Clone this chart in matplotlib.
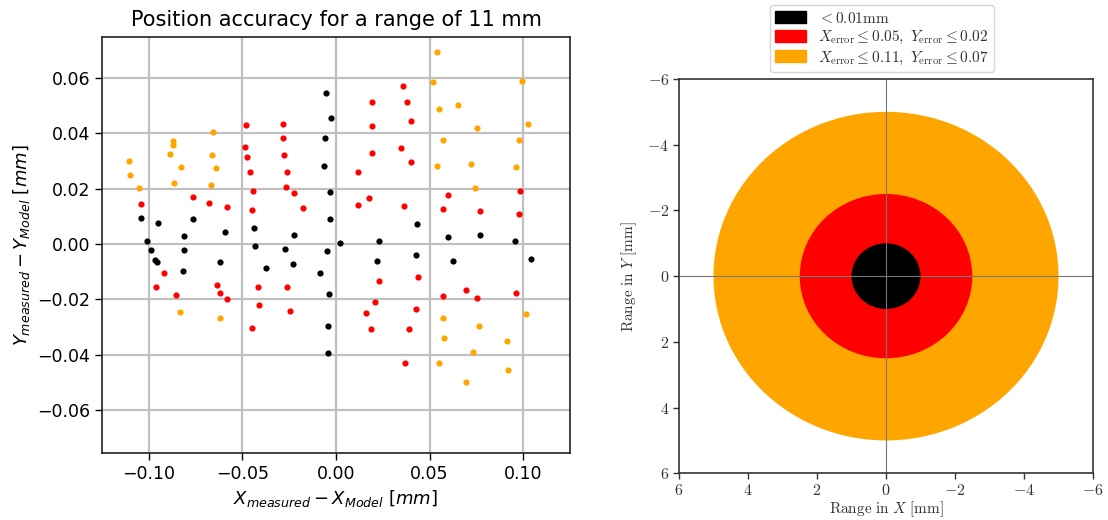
import matplotlib
matplotlib.use("Agg")
import matplotlib.pyplot as plt
from matplotlib.patches import Circle, Patch
from matplotlib.font_manager import FontProperties

# ---------------- data ----------------
black_x = [-0.0055, -0.0027, -0.0057, -0.0066, -0.0032, -0.0032, -0.1041, -0.0953,
           -0.0763, -0.0810, -0.0593, -0.0437, -0.0227, -0.1009, -0.0987, -0.0969,
           -0.0957, -0.0810, -0.0817, -0.0622, -0.0433, -0.0270, -0.0376, -0.0229,
           -0.0046, -0.0084, -0.0038, -0.0045, -0.0043, 0.0020, 0.0435, 0.0597,
           0.0767, 0.0959, 0.0230, 0.0220, 0.0428, 0.0627, 0.1041]
black_y = [0.0544, 0.0455, 0.0382, 0.0283, 0.0189, 0.0090, 0.0094, 0.0076,
           0.0090, 0.0028, 0.0044, 0.0059, 0.0031, 0.0011, -0.0023, -0.0058,
           -0.0067, -0.0022, -0.0097, -0.0066, -0.0008, -0.0018, -0.0088, -0.0073,
           -0.0025, -0.0104, -0.0182, -0.0295, -0.0394, 0.0005, 0.0071, 0.0025,
           0.0031, 0.0012, 0.0012, -0.0060, -0.0041, -0.0061, -0.0054]

red_x = [-0.1043, -0.0765, -0.0681, -0.0581, -0.0482, -0.0484, -0.0478, -0.0457,
         -0.0444, -0.0448, -0.0283, -0.0281, -0.0277, -0.0263, -0.0267, -0.0222,
         -0.0174, 0.0359, 0.0192, 0.0380, 0.0402, 0.0192, 0.0190, 0.0346,
         0.0403, 0.0118, 0.0174, 0.0117, 0.0362, 0.0599, 0.0570, 0.0767,
         0.0982, 0.0978, -0.0919, -0.0960, -0.0853, -0.0638, -0.0620, -0.0581,
         -0.0419, -0.0261, -0.0409, -0.0244, -0.0449, 0.0228, 0.0437, 0.0570,
         0.0692, 0.0753, 0.0961, 0.0208, 0.0161, 0.0425, 0.0187, 0.0392, 0.0369]
red_y = [0.0144, 0.0169, 0.0149, 0.0135, 0.0428, 0.0351, 0.0313, 0.0259,
         0.0191, 0.0123, 0.0433, 0.0383, 0.0321, 0.0259, 0.0206, 0.0182,
         0.0128, 0.0569, 0.0514, 0.0512, 0.0443, 0.0425, 0.0330, 0.0345,
         0.0296, 0.0261, 0.0166, 0.0141, 0.0136, 0.0177, 0.0126, 0.0120,
         0.0192, 0.0109, -0.0105, -0.0156, -0.0184, -0.0150, -0.0179, -0.0199,
         -0.0156, -0.0154, -0.0221, -0.0244, -0.0303, -0.0134, -0.0120, -0.0187,
         -0.0165, -0.0196, -0.0179, -0.0208, -0.0249, -0.0234, -0.0309, -0.0309, -0.0431]

orange_x = [-0.1105, -0.1098, -0.1052, -0.0869, -0.0869, -0.0885, -0.0826, -0.0867,
            -0.0659, -0.0665, -0.0641, -0.0668, 0.0541, 0.0516, 0.0995, 0.0548,
            0.0651, 0.0753, 0.1024, 0.0574, 0.0978, 0.0541, 0.0719, 0.0964,
            0.0744, -0.0831, -0.0620, 0.0570, 0.0762, 0.0579, 0.0916, 0.0731,
            0.1013, 0.0548, 0.0921, 0.0696]
orange_y = [0.0299, 0.0250, 0.0201, 0.0373, 0.0356, 0.0325, 0.0276, 0.0220,
            0.0404, 0.0321, 0.0273, 0.0214, 0.0692, 0.0586, 0.0587, 0.0487,
            0.0502, 0.0418, 0.0434, 0.0374, 0.0375, 0.0280, 0.0289, 0.0276,
            0.0202, -0.0245, -0.0268, -0.0268, -0.0296, -0.0339, -0.0350, -0.0389,
            -0.0252, -0.0431, -0.0454, -0.0498]

x_ticks = [-0.10, -0.05, 0.00, 0.05, 0.10]
y_ticks = [-0.06, -0.04, -0.02, 0.00, 0.02, 0.04, 0.06]

radii = [5.0, 2.5, 1.0]
circle_colors = ["orange", "red", "black"]
legend_labels = [r"$<0.01\mathrm{mm}$",
                 r"$X_\mathrm{error} \leq 0.05,\ Y_\mathrm{error} \leq 0.02$",
                 r"$X_\mathrm{error} \leq 0.11,\ Y_\mathrm{error} \leq 0.07$"]
legend_colors = ["black", "red", "orange"]
range_ticks = [-6, -4, -2, 0, 2, 4, 6]

# ---------------- figure ----------------
fig = plt.figure(figsize=(11.08, 5.2), dpi=100)

ax1 = fig.add_axes([0.0921, 0.1288, 0.4223, 0.7995])
ax1.grid(True, color="#c0c0c0", linewidth=1.6, zorder=0)
ax1.set_axisbelow(True)
ax1.scatter(black_x, black_y, s=20, color="black", linewidths=0, zorder=3)
ax1.scatter(red_x, red_y, s=20, color="red", linewidths=0, zorder=3)
ax1.scatter(orange_x, orange_y, s=20, color="orange", linewidths=0, zorder=3)
ax1.set_xlim(-0.125, 0.125)
ax1.set_ylim(-0.0755, 0.0746)
ax1.set_xticks(x_ticks, [f"{v:.2f}".replace("-", "\u2212") for v in x_ticks])
ax1.set_yticks(y_ticks, [f"{v:.2f}".replace("-", "\u2212") for v in y_ticks])
ax1.tick_params(labelsize=12.5, length=5, width=1)
for sp in ax1.spines.values():
    sp.set_color("#222222")
    sp.set_linewidth(1.2)
ax1.set_title("Position accuracy for a range of 11 mm", fontsize=15, pad=8)
ax1.set_xlabel(r"$X_{measured} - X_{Model}\ [mm]$", fontsize=13)
ax1.set_ylabel(r"$Y_{measured} - Y_{Model}\ [mm]$", fontsize=13)

ax2 = fig.add_axes([0.6128, 0.0898, 0.3737, 0.7583])
for r, c in zip(radii, circle_colors):
    ax2.add_patch(Circle((0, 0), r, color=c, linewidth=0, zorder=1))
ax2.axhline(0, color="#777777", linewidth=0.8, zorder=2)
ax2.axvline(0, color="#777777", linewidth=0.8, zorder=2)
ax2.set_xlim(6, -6)
ax2.set_ylim(6, -6)
ax2.set_xticks(range_ticks, [f"${v}$" for v in range_ticks], math_fontfamily="cm", fontsize=11.5)
ax2.set_yticks(range_ticks, [f"${v}$" for v in range_ticks], math_fontfamily="cm", fontsize=11.5)
ax2.tick_params(length=4, width=1, colors="#333333", pad=3)
for sp in ax2.spines.values():
    sp.set_color("#333333")
    sp.set_linewidth(1.2)
ax2.set_xlabel(r"$\mathrm{Range\ in}\ X\ [\mathrm{mm}]$", math_fontfamily="cm", fontsize=11,
               color="#333333", labelpad=1)
ax2.set_ylabel(r"$\mathrm{Range\ in}\ Y\ [\mathrm{mm}]$", math_fontfamily="cm", fontsize=11,
               color="#333333", labelpad=6)

handles = [Patch(facecolor=c, edgecolor=c) for c in legend_colors]
leg = ax2.legend(handles, legend_labels, loc="lower center", bbox_to_anchor=(0.49, 1.01),
                 prop=FontProperties(size=11, math_fontfamily="cm"), frameon=True,
                 handlelength=2.0, handleheight=0.8, labelspacing=0.22,
                 borderaxespad=0.2, borderpad=0.35, handletextpad=0.8)
for t in leg.get_texts():
    t.set_color("#333333")

fig.savefig("out.png", dpi=100)
